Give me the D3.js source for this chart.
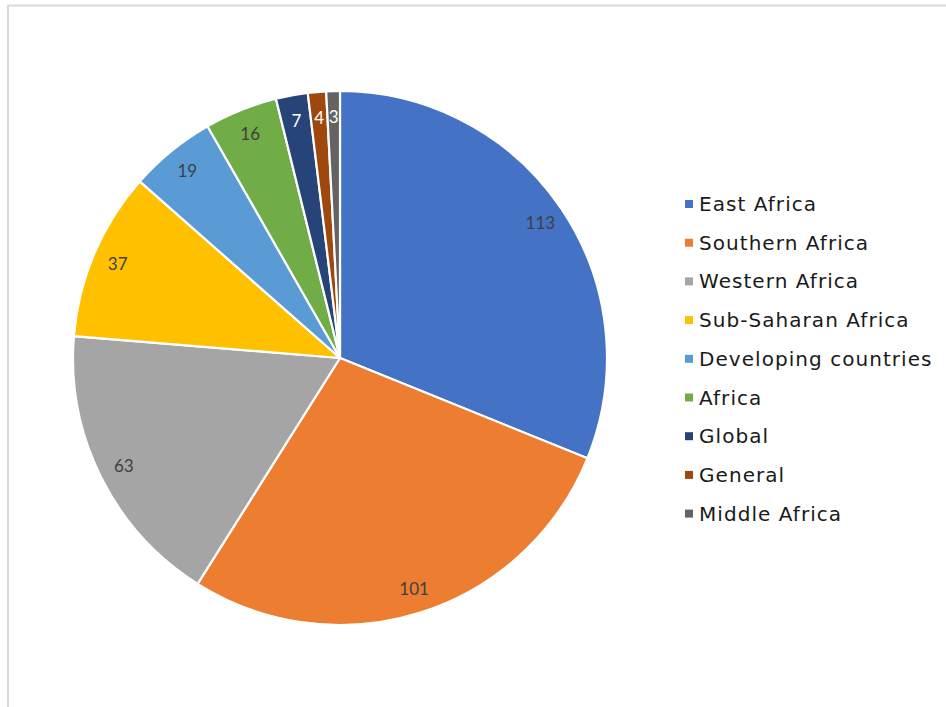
<!DOCTYPE html>
<html>
<head>
<meta charset="utf-8">
<script src="https://cdn.jsdelivr.net/npm/d3@7"></script>
<style>
  html, body { margin: 0; padding: 0; background: #fff; }
  svg { display: block; }
</style>
</head>
<body>
<svg id="chart" width="946" height="707"></svg>
<script>
// Regions and number of studies per region
const categories = ["East Africa", "Southern Africa", "Western Africa", "Sub-Saharan Africa",
  "Developing countries", "Africa", "Global", "General", "Middle Africa"];
const counts = [113, 101, 63, 37, 19, 16, 7, 4, 3];
const colors = ["#4472C4", "#ED7D31", "#A5A5A5", "#FFC000", "#5B9BD5", "#70AD47", "#264478", "#9E480E", "#636363"];
const labelColors = ["#404040", "#404040", "#404040", "#404040", "#404040", "#404040", "#ffffff", "#ffffff", "#ffffff"];

const data = categories.map((c, i) => ({ name: c, value: counts[i], color: colors[i], labelColor: labelColors[i] }));

const svg = d3.select("#chart");

// chart area frame
svg.append("line").attr("x1", 8).attr("y1", 5.5).attr("x2", 946).attr("y2", 5.5)
  .attr("stroke", "#d9d9d9").attr("stroke-width", 2);
svg.append("line").attr("x1", 8).attr("y1", 5).attr("x2", 8).attr("y2", 707)
  .attr("stroke", "#d9d9d9").attr("stroke-width", 2);

const cx = 340, cy = 358, r = 267;

const pie = d3.pie().sort(null).value(d => d.value);
const arc = d3.arc().innerRadius(0).outerRadius(r);
const labelArc = d3.arc().innerRadius(r * 0.905).outerRadius(r * 0.905);

const g = svg.append("g").attr("transform", `translate(${cx},${cy})`);
const arcs = pie(data);

g.selectAll("path.slice").data(arcs).join("path")
  .attr("class", "slice")
  .attr("d", arc)
  .attr("fill", d => d.data.color)
  .attr("stroke", "#fff")
  .attr("stroke-width", 2.2)
  .attr("stroke-linejoin", "round");

g.selectAll("text.val").data(arcs).join("text")
  .attr("class", "val")
  .attr("transform", d => `translate(${labelArc.centroid(d)})`)
  .attr("text-anchor", "middle")
  .attr("dominant-baseline", "central")
  .attr("font-family", "Lato, 'Open Sans', sans-serif")
  .attr("font-size", 17)
  .attr("fill", d => d.data.labelColor)
  .text(d => d.data.value);

// legend
const legend = svg.append("g").attr("transform", "translate(685,204)");
const rowH = 38.7;
const item = legend.selectAll("g").data(data).join("g")
  .attr("transform", (d, i) => `translate(0,${i * rowH})`);
item.append("rect").attr("x", 0).attr("y", -4).attr("width", 8).attr("height", 8)
  .attr("fill", d => d.color);
item.append("text").attr("x", 14).attr("y", 0)
  .attr("dominant-baseline", "central")
  .attr("font-family", "'DejaVu Sans', sans-serif")
  .attr("font-size", 20)
  .attr("letter-spacing", 1.05)
  .attr("fill", "#1a1a1a")
  .text(d => d.name);
</script>
</body>
</html>
